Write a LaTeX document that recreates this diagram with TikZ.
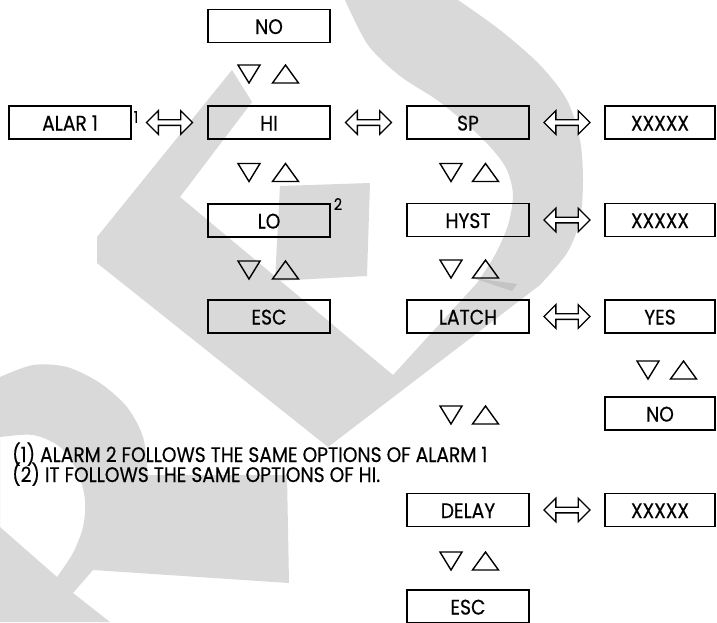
\documentclass[tikz,border=0pt]{standalone}
\usepackage{fontspec}
\setmainfont{Poppins}
\newfontfamily\boxfont{Poppins}[FakeStretch=0.89, FakeBold=0.4]
\usetikzlibrary{shapes.arrows}
\definecolor{wm}{RGB}{217,217,217}
\definecolor{wmd}{RGB}{196,196,196}
\tikzset{
  bx/.style={draw, line width=1.7pt, minimum width=122pt, minimum height=33pt, inner sep=0pt,
    font=\boxfont\fontsize{21}{21}\selectfont, text height=16pt, text depth=0pt},
  bxs/.style={bx, minimum width=110pt},
  tri/.style={draw, line width=1.4pt, line join=miter},
  dn/.pic={\draw[tri] (-11,-9) -- (11,-9) -- (0,9) -- cycle;},
  up/.pic={\draw[tri] (-13,9) -- (13,9) -- (0,-9) -- cycle;},
  dblarr/.style={shape=double arrow, draw, line width=1.3pt, fill=white,
    minimum height=46pt, inner xsep=0pt, inner ysep=2.2pt, text height=0pt, text depth=0pt,
    double arrow head extend=9pt, double arrow head indent=0pt, double arrow tip angle=90},
  sup/.style={font=\boxfont\fontsize{16}{16}\selectfont, inner sep=0pt},
  foot/.style={font=\boxfont\fontsize{21}{21}\selectfont, inner sep=0pt, anchor=base west},
}
\begin{document}
\begin{tikzpicture}[x=1pt,y=-1pt]
\useasboundingbox (0,0) rectangle (717,622);
\clip (0,0) rectangle (717,622);
\fill[white] (0,0) rectangle (717,622);
% watermark
\fill[wm] (232,70) -- (252,102) -- (180,197) -- (393,375) -- (477,283)
  -- plot[smooth] coordinates {(477,283) (495,255) (508,225) (513,195) (507,170) (493,150) (470,127) (437,100) (400,76) (368,45) (345,0)}
  -- (458,0)
  -- plot[smooth] coordinates {(458,0) (500,30) (540,65) (567,100) (580,140) (583,180) (580,220) (567,253) (540,285)}
  -- (328,447) -- (97,263) -- (97,237) -- cycle;
\fill[wm] (280,186) -- (370,183) -- (367,276) -- (275,281) -- cycle;
\fill[wm, even odd rule] (0,377)
  -- plot[smooth] coordinates {(0,377) (33,365) (67,367) (100,383) (127,407) (143,437) (148,475)}
  -- (287,475) -- (289,583) -- (93,570) -- (73,593) -- (110,622) -- (0,622) -- cycle
  (0,437) -- plot[smooth] coordinates {(0,437) (33,435) (60,447) (78,473) (85,500) (83,527) (73,553) (57,577)} -- (0,527) -- cycle;
\fill[wmd] (473,278) -- (517,284) -- (512,291) -- cycle;
% boxes
\node[bx] (alar) at (70,122.5) {ALAR 1};
\node[bx] (no) at (269,26) {NO};
\node[bx] (hi) at (269,122.5) {HI};
\node[bx] (lo) at (269,220.5) {LO};
\node[bx] (esc) at (269,316.5) {ESC};
\node[bx] (sp) at (468,122.5) {SP};
\node[bx] (hyst) at (468,220) {HYST};
\node[bx] (latch) at (468,316.5) {LATCH};
\node[bx] (delay) at (468,510) {DELAY};
\node[bx] (esc2) at (468,606.5) {ESC};
\node[bxs] (x1) at (660,122.5) {XXXXX};
\node[bxs] (x2) at (660,220) {XXXXX};
\node[bxs] (yes) at (660,316.5) {YES};
\node[bxs] (no2) at (660,413.5) {NO};
\node[bxs] (x3) at (660,510) {XXXXX};
% superscripts
\node[sup] (s1) at (136,117) {1};
\node[sup] (s2) at (338,204) {2};
% double arrows between boxes
\path (alar.east) -- (hi.west) node[dblarr, midway] (a1) {};
\path (hi.east) -- (sp.west) node[dblarr, midway] (a2) {};
\path (sp.east) -- (x1.west) node[dblarr, midway] (a3) {};
\path (hyst.east) -- (x2.west) node[dblarr, midway] (a4) {};
\path (latch.east) -- (yes.west) node[dblarr, midway] (a5) {};
\path (delay.east) -- (x3.west) node[dblarr, midway] (a6) {};
% up/down triangles
\foreach \y in {74,172.5,270} {\pic at (249,\y) {dn}; \pic at (285.5,\y) {up};}
\foreach \y in {172.5,269,415,561} {\pic at (451,\y) {dn}; \pic at (485.5,\y) {up};}
\pic at (648,370) {dn}; \pic at (683.5,370) {up};
% footnotes
\node[foot] (f1) at (12,462) {(1) ALARM 2 FOLLOWS THE SAME OPTIONS OF ALARM 1};
\node[foot] (f2) at (12,482) {(2) IT FOLLOWS THE SAME OPTIONS OF HI.};
\end{tikzpicture}
\end{document}
